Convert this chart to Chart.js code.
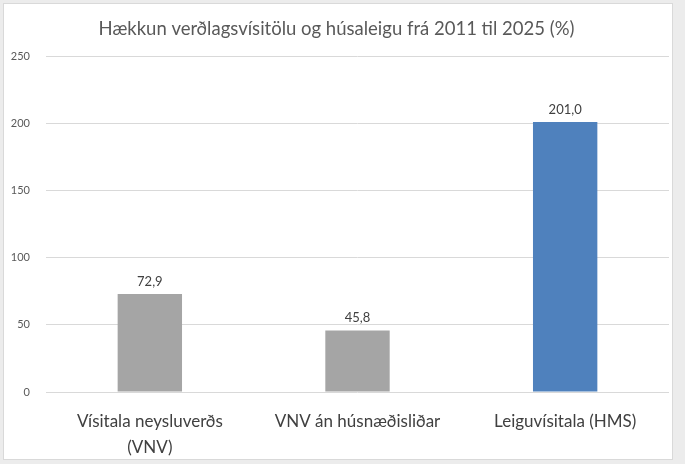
<!DOCTYPE html>
<html lang="is">
<head>
    <meta charset="UTF-8">
    <title>Hækkun verðlagsvísitölu og húsaleigu</title>
    <script src="https://cdn.jsdelivr.net/npm/chart.js"></script>
    <style>
        body {
            margin: 0;
            background-color: #ececec;
            font-family: 'Lato', sans-serif;
        }

        #panel {
            position: absolute;
            left: 3px;
            top: 3px;
            width: 668px;
            height: 455px;
            background-color: #fff;
            border: 1px solid #d9d9d9;
        }

        canvas {
            display: block;
        }
    </style>
</head>
<body>

    <div id="panel">
        <canvas id="myChart" width="668" height="455"></canvas>
    </div>

    <script>
        // Gögn lesin af myndinni
        const categories = [['Vísitala neysluverðs', '(VNV)'], 'VNV án húsnæðisliðar', 'Leiguvísitala (HMS)'];
        const values = [72.9, 45.8, 201.0];
        const barColors = ['#a5a5a5', '#a5a5a5', '#4f81bd'];
        const yTicks = [0, 50, 100, 150, 200, 250];

        // teiknar gildin fyrir ofan súlurnar
        const valueLabels = {
            id: 'valueLabels',
            afterDatasetsDraw(chart) {
                const ctx = chart.ctx;
                const meta = chart.getDatasetMeta(0);
                ctx.save();
                ctx.font = '13px Lato, sans-serif';
                ctx.fillStyle = '#404040';
                ctx.textAlign = 'center';
                ctx.textBaseline = 'bottom';
                meta.data.forEach((bar, i) => {
                    const txt = values[i].toFixed(1).replace('.', ',');
                    ctx.fillText(txt, bar.x, bar.y - 6);
                });
                ctx.restore();
            }
        };

        const ctx = document.getElementById('myChart').getContext('2d');
        const chart = new Chart(ctx, {
            type: 'bar',
            data: {
                labels: categories,
                datasets: [{
                    data: values,
                    backgroundColor: barColors,
                    categoryPercentage: 1,
                    barPercentage: 0.31
                }]
            },
            options: {
                responsive: false,
                animation: false,
                layout: {
                    padding: { left: 0, right: 3, top: 0, bottom: 1 }
                },
                plugins: {
                    legend: { display: false },
                    tooltip: { enabled: false },
                    title: {
                        display: true,
                        text: 'Hækkun verðlagsvísitölu og húsaleigu frá 2011 til 2025 (%)',
                        color: '#595959',
                        font: { family: 'Lato', size: 18.5, weight: 'normal' },
                        padding: { top: 14, bottom: 16 }
                    }
                },
                scales: {
                    x: {
                        grid: { display: false, drawTicks: false },
                        border: { display: false },
                        afterFit: s => {
                            s.height = 66;
                            s.paddingLeft = 0;
                            s.paddingRight = 0;
                        },
                        ticks: {
                            color: '#404040',
                            font: { family: 'Lato', size: 17, lineHeight: 1.5 },
                            maxRotation: 0,
                            padding: 17
                        }
                    },
                    y: {
                        min: 0,
                        max: 250,
                        afterBuildTicks: axis => {
                            axis.ticks = yTicks.map(v => ({ value: v }));
                        },
                        afterFit: s => {
                            s.width = 42;
                        },
                        grid: {
                            color: '#d9d9d9',
                            drawTicks: false
                        },
                        border: { display: false },
                        ticks: {
                            color: '#595959',
                            font: { family: 'Lato', size: 11 },
                            padding: 16
                        }
                    }
                }
            },
            plugins: [valueLabels]
        });
    </script>
</body>
</html>
